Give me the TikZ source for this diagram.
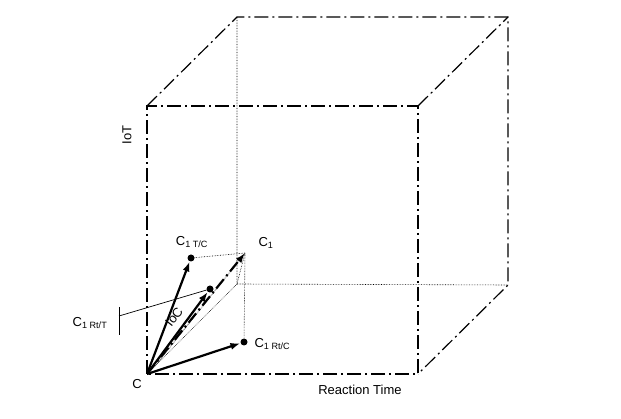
\documentclass[tikz,border=0pt]{standalone}
\usepackage{fontspec}
\setmainfont{Liberation Sans}
\usetikzlibrary{arrows.meta}
\tikzset{
  edge/.style={dash pattern=on 14pt off 4pt on 2pt off 4pt, line width=1.2pt},
  hidden/.style={densely dotted, line width=0.6pt},
  vec/.style={line width=2.2pt, -{Latex[length=10pt,width=7pt]}},
  dot/.style={circle, fill, inner sep=0pt, minimum size=7pt},
  lbl/.style={font=\fontsize{13}{15}\selectfont}
}
\begin{document}
\begin{tikzpicture}[x=1pt,y=-1pt]
\useasboundingbox (0,0) rectangle (621,419);
% cube corners
\coordinate (C) at (147,374);
\coordinate (ftl) at (147,106);
\coordinate (ftr) at (418,106);
\coordinate (fbr) at (418,374);
\coordinate (btl) at (237,17);
\coordinate (btr) at (508,17);
\coordinate (bbr) at (508,285);
\coordinate (bbl) at (237,284);
% cube
\draw[edge] (C) -- (ftl) -- (ftr) -- (fbr) -- cycle;
\draw[edge] (ftl) -- (btl) -- (btr) -- (bbr) -- (fbr);
\draw[edge] (ftr) -- (btr);
\draw[hidden] (btl) -- (bbl) -- (bbr);
\draw[hidden] (C) -- (bbl);
% points
\node[dot] (ct) at (191,258) {};
\node[dot] (cr) at (244,342) {};
\node[dot] (ic) at (210,289) {};
\coordinate (c1) at (245,253);
\draw[hidden] (ct) -- (c1) -- (cr);
\draw[hidden] (bbl) -- (c1);
\draw[hidden] (155,366) -- (c1);
% vectors
\draw[vec] (C) -- (ct);
\draw[vec] (C) -- (cr);
\draw[vec] (C) -- (ic);
\draw[vec, dash pattern=on 12pt off 4pt on 2pt off 4pt] (C) -- (c1);
% C1 Rt/T marker
\coordinate (tk) at (119,316);
\draw[line width=0.9pt] (119,307) -- (119,335);
\draw[line width=0.7pt] (tk) -- (ic);
% labels
\node[lbl] (lc) at (137,384) {C};
\node[lbl] (lc1) at (266,243) {C\textsubscript{1}};
\node[lbl] (lct) at (192,242) {C\textsubscript{1 T/C}};
\node[lbl, anchor=west] (lcr) at (251,344) {C\textsubscript{1 Rt/C}};
\node[lbl] (lrt) at (90,323) {C\textsubscript{1 Rt/T}};
\node[lbl, rotate=90] (liot) at (127,135) {IoT};
\node[lbl, rotate=52] (lioc) at (174,317) {IoC};
\node[lbl] (lrx) at (360,390) {Reaction Time};
\end{tikzpicture}
\end{document}
